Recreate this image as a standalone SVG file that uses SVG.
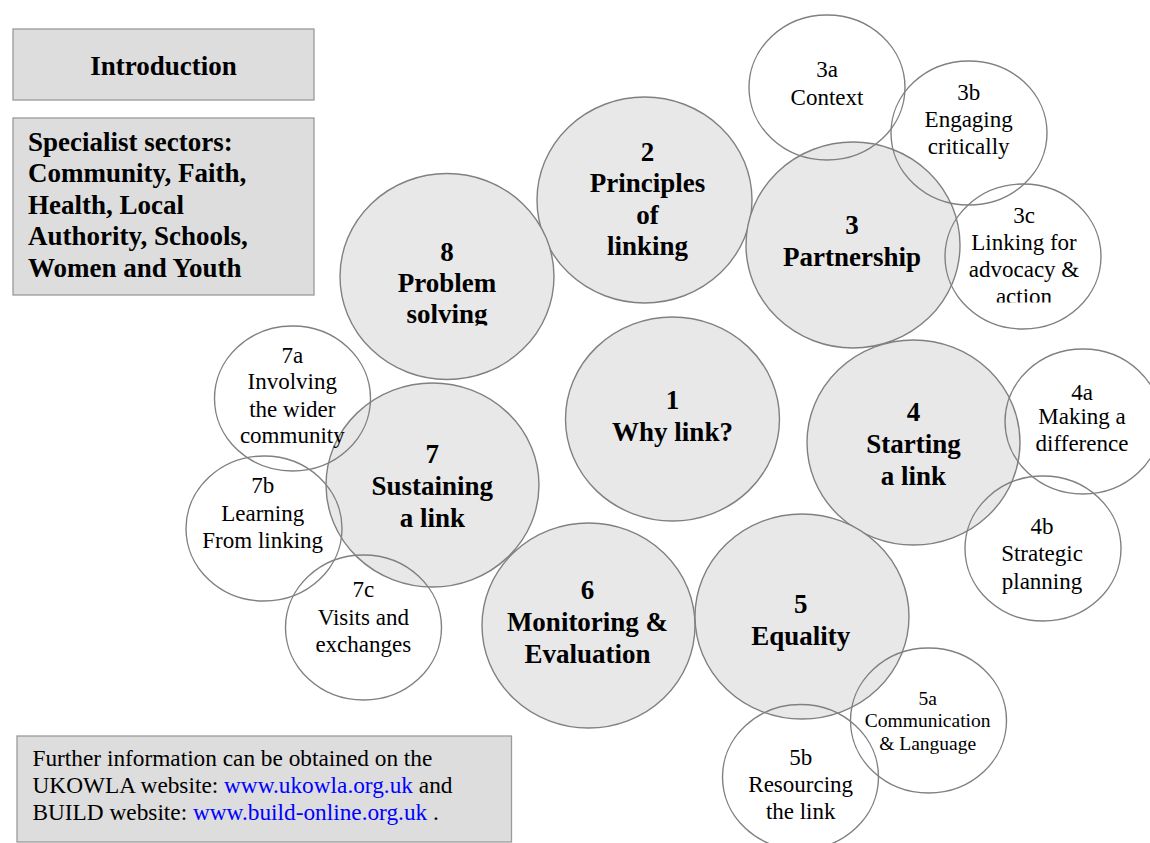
<svg xmlns="http://www.w3.org/2000/svg" width="1150" height="843" viewBox="0 0 1150 843">
<style>
.box{fill:#dddddd;stroke:#9a9a9a;stroke-width:1.3}
.big{fill:#e8e8e8;stroke:#808080;stroke-width:1.4}
.small{fill:none;stroke:#808080;stroke-width:1.4}
text{font-family:"Liberation Serif","Times New Roman",serif;fill:#000}
.b{font-weight:bold;font-size:27px;text-anchor:middle}
.s{font-size:23px;text-anchor:middle}
.xs{font-size:19.5px;text-anchor:middle}
.lb{font-weight:bold;font-size:27px}
.ft{font-size:23.3px}
.link{fill:#0000ff}
</style>
<defs>
<clipPath id="clip8"><rect x="330" y="150" width="240" height="175.5"/></clipPath>
<clipPath id="clip3c"><rect x="940" y="180" width="170" height="122.5"/></clipPath>
</defs>
<rect width="1150" height="843" fill="#ffffff"/>
<g id="connectors"/>
<g id="intro">
<rect class="box" x="13" y="29" width="301" height="71"/>
<text class="b" x="163.5" y="75">Introduction</text>
</g>
<g id="specialist">
<rect class="box" x="13" y="118" width="301" height="177"/>
<text class="lb" x="28" y="150.7">Specialist sectors:</text>
<text class="lb" x="28" y="182.3">Community, Faith,</text>
<text class="lb" x="28" y="213.8">Health, Local</text>
<text class="lb" x="28" y="245.3">Authority, Schools,</text>
<text class="lb" x="28" y="276.7">Women and Youth</text>
</g>
<g id="footer">
<rect class="box" x="17" y="736" width="494.5" height="106"/>
<text class="ft" x="32.5" y="765.7">Further information can be obtained on the</text>
<text class="ft" x="32.5" y="792.7">UKOWLA website: <tspan class="link">www.ukowla.org.uk</tspan> and</text>
<text class="ft" x="32.5" y="819.7">BUILD website: <tspan class="link">www.build-online.org.uk</tspan> .</text>
</g>
<g id="node2">
<ellipse class="big" cx="644.5" cy="200" rx="107.5" ry="103"/>
<text class="b" x="647.5" y="160.7">2</text>
<text class="b" x="647.5" y="192.2">Principles</text>
<text class="b" x="647.5" y="223.5">of</text>
<text class="b" x="647.5" y="255">linking</text>
</g>
<g id="node3">
<ellipse class="big" cx="853" cy="245" rx="107" ry="103"/>
<text class="b" x="852" y="234">3</text>
<text class="b" x="852" y="266">Partnership</text>
</g>
<g id="node8">
<ellipse class="big" cx="447" cy="276.5" rx="107" ry="103"/>
<g clip-path="url(#clip8)">
<text class="b" x="447" y="260.5">8</text>
<text class="b" x="447" y="291.7">Problem</text>
<text class="b" x="447" y="322.8">solving</text>
</g>
</g>
<g id="node1">
<ellipse class="big" cx="672.5" cy="419" rx="107" ry="102"/>
<text class="b" x="672.5" y="409">1</text>
<text class="b" x="672.5" y="441">Why link?</text>
</g>
<g id="node4">
<ellipse class="big" cx="913.5" cy="442.5" rx="106.5" ry="102.5"/>
<text class="b" x="913.5" y="421">4</text>
<text class="b" x="913.5" y="453">Starting</text>
<text class="b" x="913.5" y="485">a link</text>
</g>
<g id="node7">
<ellipse class="big" cx="432.5" cy="485" rx="106.5" ry="102"/>
<text class="b" x="432.3" y="463.3">7</text>
<text class="b" x="432.3" y="495">Sustaining</text>
<text class="b" x="432.3" y="526.7">a link</text>
</g>
<g id="node6">
<ellipse class="big" cx="588.5" cy="625.5" rx="106.5" ry="102.5"/>
<text class="b" x="587.5" y="599">6</text>
<text class="b" x="587.5" y="631">Monitoring &amp;</text>
<text class="b" x="587.5" y="663">Evaluation</text>
</g>
<g id="node5">
<ellipse class="big" cx="802" cy="616.5" rx="107" ry="102.5"/>
<text class="b" x="800.7" y="613.3">5</text>
<text class="b" x="800.7" y="645">Equality</text>
</g>
<g id="node3a">
<ellipse class="small" cx="827" cy="87.5" rx="78" ry="72.5"/>
<text class="s" x="827" y="76.7">3a</text>
<text class="s" x="827" y="104.5">Context</text>
</g>
<g id="node3b">
<ellipse class="small" cx="969" cy="133" rx="78" ry="72"/>
<text class="s" x="968.7" y="100">3b</text>
<text class="s" x="968.7" y="127">Engaging</text>
<text class="s" x="968.7" y="154">critically</text>
</g>
<g id="node3c">
<ellipse class="small" cx="1023" cy="256.5" rx="78" ry="72.5"/>
<g clip-path="url(#clip3c)">
<text class="s" x="1024" y="222.5">3c</text>
<text class="s" x="1024" y="249.5">Linking for</text>
<text class="s" x="1024" y="276.5">advocacy &amp;</text>
<text class="s" x="1024" y="303.8">action</text>
</g>
</g>
<g id="node4a">
<ellipse class="small" cx="1083" cy="421.5" rx="78" ry="72.5"/>
<text class="s" x="1082" y="400">4a</text>
<text class="s" x="1082" y="424">Making a</text>
<text class="s" x="1082" y="451">difference</text>
</g>
<g id="node4b">
<ellipse class="small" cx="1043" cy="548.5" rx="78" ry="72.5"/>
<text class="s" x="1042" y="534">4b</text>
<text class="s" x="1042" y="561">Strategic</text>
<text class="s" x="1042" y="589">planning</text>
</g>
<g id="node7a">
<ellipse class="small" cx="292.5" cy="398.5" rx="78" ry="72.5"/>
<text class="s" x="292.3" y="362.7">7a</text>
<text class="s" x="292.3" y="389.3">Involving</text>
<text class="s" x="292.3" y="416.7">the wider</text>
<text class="s" x="292.3" y="443.3">community</text>
</g>
<g id="node7b">
<ellipse class="small" cx="264" cy="528.5" rx="78" ry="72.5"/>
<text class="s" x="262.7" y="492.7">7b</text>
<text class="s" x="262.7" y="521">Learning</text>
<text class="s" x="262.7" y="548.3">From linking</text>
</g>
<g id="node7c">
<ellipse class="small" cx="363.5" cy="627.5" rx="78" ry="72.5"/>
<text class="s" x="363.3" y="597.3">7c</text>
<text class="s" x="363.3" y="625">Visits and</text>
<text class="s" x="363.3" y="651.7">exchanges</text>
</g>
<g id="node5a">
<ellipse class="small" cx="928.5" cy="720.5" rx="78" ry="72.5"/>
<text class="xs" x="927.7" y="705">5a</text>
<text class="xs" x="927.7" y="727">Communication</text>
<text class="xs" x="927.7" y="750">&amp; Language</text>
</g>
<g id="node5b">
<ellipse class="small" cx="800.5" cy="777" rx="78" ry="72.5"/>
<text class="s" x="800.7" y="765">5b</text>
<text class="s" x="800.7" y="791.7">Resourcing</text>
<text class="s" x="800.7" y="819.3">the link</text>
</g>
</svg>
